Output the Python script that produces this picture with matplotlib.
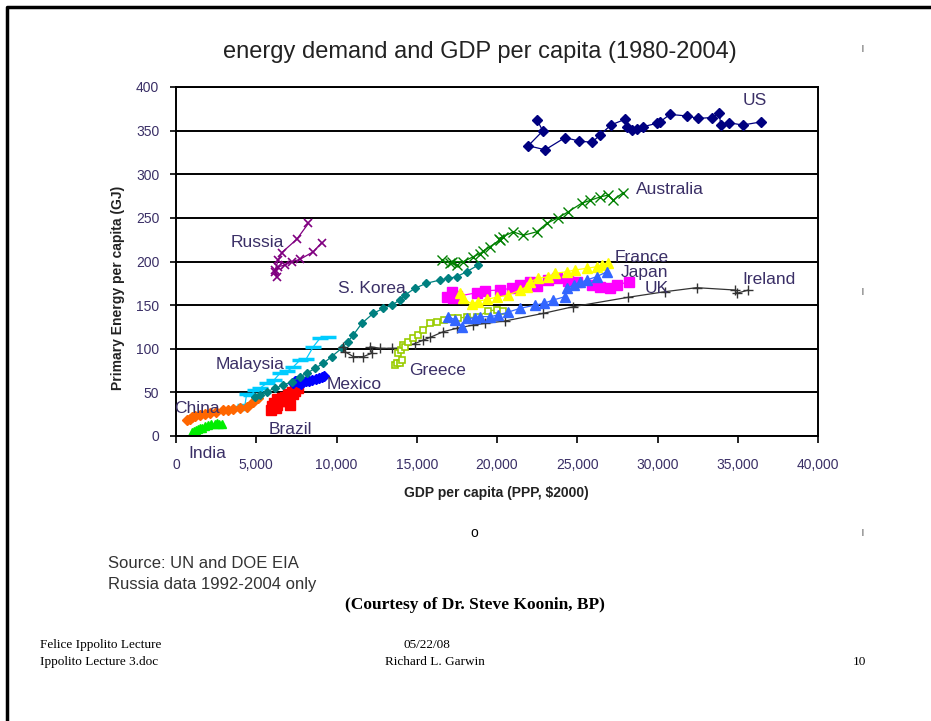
import numpy as np
import matplotlib
matplotlib.use('Agg')
import matplotlib.pyplot as plt
from matplotlib.lines import Line2D

plt.rcParams['font.family'] = ['Liberation Sans', 'DejaVu Sans']

# ---- data (GDP per capita, PPP $2000 ; primary energy GJ/capita)
us_gdp = [22510, 22850, 21950, 23000, 24240, 25130, 25920, 26420, 27100, 27980, 28080, 28390, 28700,
          29120, 29950, 30150, 30780, 31820, 32540, 33380, 33850, 33940, 34470, 35310, 36450]
us_e = [362, 349.6, 332.7, 328, 342, 338, 336.6, 345, 356.5, 363, 354.5, 350.7, 351.5,
        354.5, 358.4, 360, 368.6, 366.8, 364, 365, 369.8, 356.4, 359, 356.4, 360]

aus_gdp = [16550, 17070, 17490, 17200, 17900, 18520, 18940, 19150, 19560, 20190, 20390, 20100,
           21010, 21640, 22470, 23100, 23800, 24440, 25270, 25800, 26420, 26900, 27250, 27870]
aus_e = [201.7, 198, 196, 200, 199.8, 205.5, 209, 212, 217, 224.6, 228.5, 226,
         234, 230, 234, 243.8, 250, 257, 266.7, 270, 274, 276, 270.5, 279]

rus_gdp = [8250, 7520, 6580, 6370, 6170, 6270, 6150, 6370, 6790, 7210, 7730, 8560, 9080]
rus_e = [243.7, 225.4, 210, 201.7, 190, 182.6, 188, 194, 196, 199.8, 202.5, 211.3, 221.6]

kor_gdp = [4920, 5230, 5650, 6170, 6690, 7210, 7730, 8140, 8660, 9180, 9700, 10320, 10700, 11050,
           11570, 12290, 12920, 13440, 13960, 14270, 14890, 15600, 16450, 16970, 17490, 18110, 18840]
kor_e = [44.3, 47, 50.8, 54.6, 58.5, 62.2, 68, 71.8, 77.6, 83.3, 91, 100.5, 108, 115.8,
         129, 140.6, 146.3, 150, 156, 161.6, 169.3, 175, 178.8, 180.7, 182.6, 188.3, 196]

fra_gdp = [17700, 17900, 18420, 18800, 19360, 19980, 20710, 21430, 21850, 22060, 22570, 23200,
           23610, 24350, 24860, 25590, 26210, 26520, 26940]
fra_e = [163.5, 157.8, 151.3, 154, 156.7, 159, 161.6, 167.3, 171.1, 176.9, 180.7, 182.6,
         186.4, 188.3, 190.3, 192.2, 194, 196, 198]

mag_gdp = [16870, 17180, 17280, 17500, 18740, 19250, 20190, 20910, 21430, 22060, 22500, 23200,
           23720, 24400, 24970, 25900, 26420, 27040, 27460, 28240]
mag_e = [159.7, 165.4, 157.8, 160, 164.2, 166.5, 167.3, 169.3, 173, 176.9, 172, 178.8,
         180.7, 178, 176.9, 173, 171.1, 169.3, 173, 176.9]

blu_gdp = [16970, 17400, 17800, 18110, 18600, 18940, 19560, 20080, 20700, 21430, 22370, 22900,
           23510, 24240, 24350, 24770, 25200, 25590, 26210, 26850]
blu_e = [136.8, 133, 125.3, 134.9, 135, 136.8, 136.8, 138.7, 142, 146.3, 150, 152,
         155.9, 159.7, 169.3, 173, 176, 178.8, 182.6, 188.3]

ire_gdp = [10420, 10530, 11050, 11670, 12190, 12090, 12710, 13440, 13960, 14890, 15420, 15830, 16660,
           17490, 18520, 19250, 20500, 22890, 24750, 28180, 30470, 32440, 34830, 34930, 35660]
ire_e = [102.4, 96.6, 91, 91, 94.8, 102.4, 100.5, 100.5, 100.5, 106, 110, 113, 119.6,
         123.4, 127.2, 129, 131.8, 140.6, 148.2, 159, 165.4, 170, 167.3, 163.5, 167.3]

gre_gdp = [13640, 13800, 13960, 14060, 13850, 14000, 14160, 14270, 14470, 14790, 15100, 15420,
           15830, 16240, 16700, 17180, 17600, 18110, 18740, 19460, 19980, 20390]
gre_e = [81.4, 84, 83.3, 87, 94.8, 99, 104, 102.4, 108, 112, 115.8, 121.5,
         129, 131, 133, 134.9, 135.5, 136, 136, 143.6, 144.4, 143.6]

mal_gdp = [3780, 3990, 4300, 4400, 4700, 4920, 5240, 5650, 6100, 6480, 6900, 7300, 7730, 8100,
           8560, 8970, 9490]
mal_e = [30.6, 33.6, 36, 48.1, 47, 52.7, 55, 60.4, 64, 71.9, 74, 79, 87.1, 88,
         102.4, 112, 113.1]

chn_gdp = [700, 850, 1000, 1200, 1500, 1800, 2120, 2500, 2950, 3250, 3570, 4000, 4400, 4820, 5130]
chn_e = [18.3, 20, 21.5, 23, 24, 25, 26, 28, 29.8, 30, 30.6, 32, 33.6, 39.3, 43.2]

ind_gdp = [980, 1100, 1250, 1400, 1500, 1650, 1800, 2010, 2200, 2400, 2540, 2700, 2850]
ind_e = [5, 6, 7, 8, 8.8, 9.5, 11, 12.6, 13.2, 13.8, 14.5, 14, 13.5]

bra_gdp = [6000, 5900, 6200, 6100, 6300, 6500, 6600, 6300, 6800, 7000, 7200, 7400, 7600, 7300, 6900, 7100]
bra_e = [34, 30, 32, 38, 42, 40, 44, 36, 45, 48, 50, 52, 55, 48, 40, 35]

mex_gdp = [7300, 7400, 7600, 7800, 7700, 7500, 7900, 8100, 8300, 8500, 8700, 8900, 9100, 9200]
mex_e = [61, 63, 62, 60, 61.5, 63, 62, 63, 63.5, 64, 65, 66, 68, 69]

labels = ['US', 'Australia', 'Russia', 'France', 'Japan', 'UK', 'Ireland', 'S. Korea',
          'Malaysia', 'Greece', 'Mexico', 'China', 'Brazil', 'India']
label_x = [35300, 28660, 3430, 27350, 27730, 29220, 35260, 10090, 2490, 14520, 9410, -120, 5790, 750]
label_y = [385, 283, 222, 205, 187, 169.6, 178.8, 169.6, 81.4, 74.5, 58.5, 32, 6.9, -20.6]

xticks = [0, 5000, 10000, 15000, 20000, 25000, 30000, 35000, 40000]
yticks = [0, 50, 100, 150, 200, 250, 300, 350, 400]

W, H = 931, 721
fig = plt.figure(figsize=(W / 100, H / 100), dpi=100)
ax = fig.add_axes([176 / W, 1 - 436 / H, 642 / W, 349 / H])


def px(x, y):
    return x / W, 1 - y / H


# series
ax.plot(mal_gdp, mal_e, '-', color='#00CCFF', lw=0.9, marker='_', ms=11, mew=2.5)
ax.plot(chn_gdp, chn_e, '-', color='#FF6600', lw=0.9, marker='D', ms=5)
ax.plot(ind_gdp, ind_e, '-', color='#00EE00', lw=0.9, marker='^', ms=6)
ax.plot(bra_gdp, bra_e, '-', color='#FF0000', lw=0.9, marker='s', ms=7)
ax.plot(mex_gdp, mex_e, '-', color='#0000FF', lw=0.9, marker='D', ms=5.5)
ax.plot(kor_gdp, kor_e, '-', color='#008080', lw=0.9, marker='D', ms=4.5)
ax.plot(ire_gdp, ire_e, '-', color='#333333', lw=0.9, marker='+', ms=7)
ax.plot(gre_gdp, gre_e, '-', color='#99CC00', lw=0.9, marker='s', ms=5, mfc='white', mew=1.2)
ax.plot(mag_gdp, mag_e, '-', color='#FF00FF', lw=0.9, marker='s', ms=6.5)
ax.plot(fra_gdp, fra_e, '-', color='#FFFF00', lw=0.9, marker='^', ms=7)
ax.plot(blu_gdp, blu_e, '-', color='#3366FF', lw=0.9, marker='^', ms=7)
ax.plot(rus_gdp, rus_e, '-', color='#800080', lw=0.9, marker='x', ms=6, mew=1.2)
ax.plot(aus_gdp, aus_e, '-', color='#008000', lw=0.9, marker='x', ms=7, mew=1)
ax.plot(us_gdp, us_e, '-', color='#000080', lw=0.9, marker='D', ms=5)

for t, x, y in zip(labels, label_x, label_y):
    ax.text(x, y, t, fontsize=12.5, color='#3a2f66', va='center', ha='left', clip_on=False)

ax.set_xlim(0, 40000)
ax.set_ylim(0, 400)
ax.set_xticks(xticks)
ax.set_yticks(yticks)
ax.set_xticklabels([f'{v:,}' for v in xticks])
ax.set_yticklabels([str(v) for v in yticks])
ax.yaxis.grid(True, color='black', lw=1.4)
ax.set_axisbelow(True)
for s in ax.spines.values():
    s.set_linewidth(1.4)
ax.tick_params(axis='x', direction='out', length=5, width=1.2, pad=11, labelsize=10,
               labelcolor='#3a2f66')
ax.tick_params(axis='y', direction='out', length=4, width=1.2, pad=8, labelsize=10,
               labelcolor='#3a2f66')
for lab in ax.get_xticklabels() + ax.get_yticklabels():
    lab.set_family(['Liberation Sans Narrow', 'Liberation Sans'])

# titles and axis labels
fig.text(*px(480, 52), 'energy demand and GDP per capita (1980-2004)', fontsize=17,
         ha='center', va='center', color='#222222')
fig.text(*px(496, 493), 'GDP per capita (PPP, $2000)', fontsize=10, fontweight='bold',
         ha='center', va='center', color='#222222')
fig.text(*px(118, 288), 'Primary Energy per capita (GJ)', fontsize=10, fontweight='bold',
         rotation=90, ha='center', va='center', color='#222222')

# page decorations
fig.text(*px(108, 563), 'Source: UN and DOE EIA', fontsize=12, va='center', color='#333333')
fig.text(*px(108, 585), 'Russia data 1992-2004 only', fontsize=12, va='center', color='#333333')
fig.text(*px(475, 605), '(Courtesy of Dr. Steve Koonin, BP)', fontsize=12.5, fontweight='bold',
         family='Liberation Serif', ha='center', va='center')
fig.text(*px(474, 533), 'o', fontsize=10, ha='center', va='center')
for yy in [48, 291, 533]:
    fig.text(*px(862, yy), '|', fontsize=5, ha='center', va='center')

fig.text(*px(40, 645), 'Felice Ippolito Lecture', fontsize=9.5, family='Liberation Serif', va='center')
fig.text(*px(40, 662), 'Ippolito Lecture 3.doc', fontsize=9.5, family='Liberation Serif', va='center')
fig.text(*px(427, 645), '05/22/08', fontsize=9.5, family='Liberation Serif', ha='center', va='center')
fig.text(*px(435, 662), 'Richard L. Garwin', fontsize=9.5, family='Liberation Serif', ha='center', va='center')
fig.text(*px(859, 662), '10', fontsize=9.5, family='Liberation Serif', ha='center', va='center')

fig.add_artist(Line2D([7 / W, 7 / W, 1], [0, 1 - 7 / H, 1 - 7 / H], transform=fig.transFigure,
                      color='black', lw=2.5))

fig.savefig('out.png', dpi=100)
